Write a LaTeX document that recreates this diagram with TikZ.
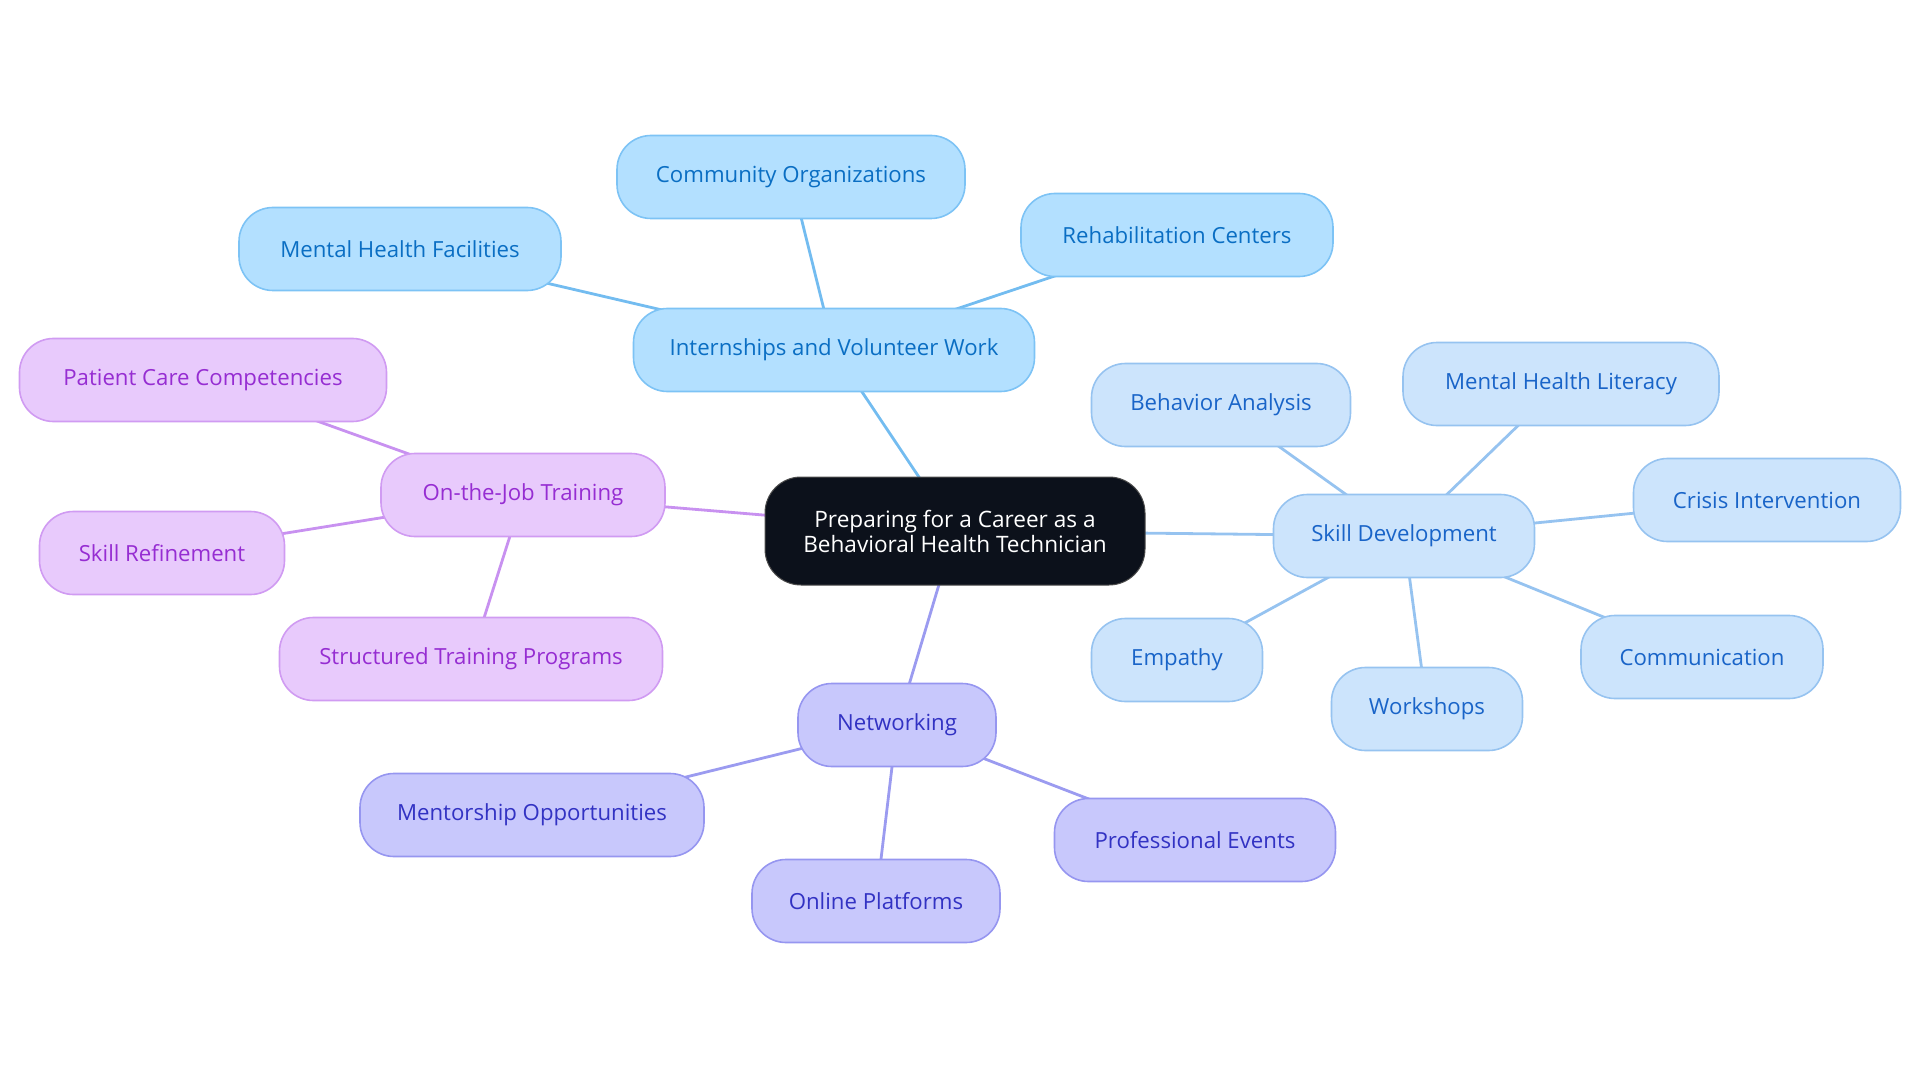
\documentclass[tikz,border=0pt]{standalone}
\usepackage{fontspec}
\setmainfont{Open Sans}
\usetikzlibrary{backgrounds}
\definecolor{bAfill}{RGB}{179,224,255}
\definecolor{bAdraw}{RGB}{125,195,245}
\definecolor{bAtext}{RGB}{10,110,195}
\definecolor{bAline}{RGB}{115,188,240}
\definecolor{bBfill}{RGB}{204,228,252}
\definecolor{bBdraw}{RGB}{150,195,240}
\definecolor{bBtext}{RGB}{25,100,200}
\definecolor{bBline}{RGB}{150,195,240}
\definecolor{pfill}{RGB}{232,202,252}
\definecolor{pdraw}{RGB}{208,155,242}
\definecolor{ptext}{RGB}{150,45,210}
\definecolor{pline}{RGB}{200,145,240}
\definecolor{ifill}{RGB}{200,200,252}
\definecolor{idraw}{RGB}{150,150,240}
\definecolor{itext}{RGB}{50,50,195}
\definecolor{iline}{RGB}{155,155,240}
\definecolor{cfill}{RGB}{12,17,27}
\tikzset{
  box/.style={rounded corners=34pt, minimum height=83pt, line width=1.6pt, inner sep=0pt,
    font=\fontsize{22.2}{26}\selectfont, align=center},
  grpA/.style={box, fill=bAfill, draw=bAdraw, text=bAtext},
  grpB/.style={box, fill=bBfill, draw=bBdraw, text=bBtext},
  grpP/.style={box, fill=pfill, draw=pdraw, text=ptext},
  grpI/.style={box, fill=ifill, draw=idraw, text=itext},
  rootbox/.style={rounded corners=36pt, minimum width=380pt, minimum height=108pt, fill=cfill,
    draw=black!70, line width=1pt, text=white, align=center, font=\fontsize{22.6}{25}\selectfont},
  conn/.style={line width=2.8pt}
}
\begin{document}
\begin{tikzpicture}[x=1pt,y=-1pt]
\useasboundingbox (0,0) rectangle (1920,1083);
\node[rootbox] (root) at (955,531) {Preparing for a Career as a\\Behavioral Health Technician};
\node[grpA, minimum width=401pt] (intern) at (834,350) {Internships and Volunteer Work};
\node[grpA, minimum width=348pt] (comm) at (791,177) {Community Organizations};
\node[grpA, minimum width=322pt] (mhf) at (400,249) {Mental Health Facilities};
\node[grpA, minimum width=312pt] (rehab) at (1177,235) {Rehabilitation Centers};
\node[grpP, minimum width=284pt] (ojt) at (523,495) {On-the-Job Training};
\node[grpP, minimum width=367pt] (pcc) at (203,380) {Patient Care Competencies};
\node[grpP, minimum width=245pt] (sr) at (162,553) {Skill Refinement};
\node[grpP, minimum width=383pt] (stp) at (471,659) {Structured Training Programs};
\node[grpI, minimum width=198pt] (net) at (897,725) {Networking};
\node[grpI, minimum width=344pt] (mo) at (532,815) {Mentorship Opportunities};
\node[grpI, minimum width=248pt] (op) at (876,901) {Online Platforms};
\node[grpI, minimum width=281pt] (pe) at (1195,840) {Professional Events};
\node[grpB, minimum width=261pt] (sd) at (1404,536) {Skill Development};
\node[grpB, minimum width=259pt] (ba) at (1221,405) {Behavior Analysis};
\node[grpB, minimum width=316pt] (mhl) at (1561,384) {Mental Health Literacy};
\node[grpB, minimum width=267pt] (ci) at (1767,500) {Crisis Intervention};
\node[grpB, minimum width=171pt] (emp) at (1177,660) {Empathy};
\node[grpB, minimum width=191pt] (ws) at (1427,709) {Workshops};
\node[grpB, minimum width=242pt] (commu) at (1702,657) {Communication};
\begin{scope}[on background layer]
\draw[conn, bAline] (root.center) -- (intern.center);
\draw[conn, bAline] (intern.center) -- (comm.center);
\draw[conn, bAline] (intern.center) -- (mhf.center);
\draw[conn, bAline] (intern.center) -- (rehab.center);
\draw[conn, pline] (root.center) -- (ojt.center);
\draw[conn, pline] (ojt.center) -- (pcc.center);
\draw[conn, pline] (ojt.center) -- (sr.center);
\draw[conn, pline] (ojt.center) -- (stp.center);
\draw[conn, iline] (root.center) -- (net.center);
\draw[conn, iline] (net.center) -- (mo.center);
\draw[conn, iline] (net.center) -- (op.center);
\draw[conn, iline] (net.center) -- (pe.center);
\draw[conn, bBline] (root.center) -- (sd.center);
\draw[conn, bBline] (sd.center) -- (ba.center);
\draw[conn, bBline] (sd.center) -- (mhl.center);
\draw[conn, bBline] (sd.center) -- (ci.center);
\draw[conn, bBline] (sd.center) -- (emp.center);
\draw[conn, bBline] (sd.center) -- (ws.center);
\draw[conn, bBline] (sd.center) -- (commu.center);
\end{scope}
\end{tikzpicture}
\end{document}
